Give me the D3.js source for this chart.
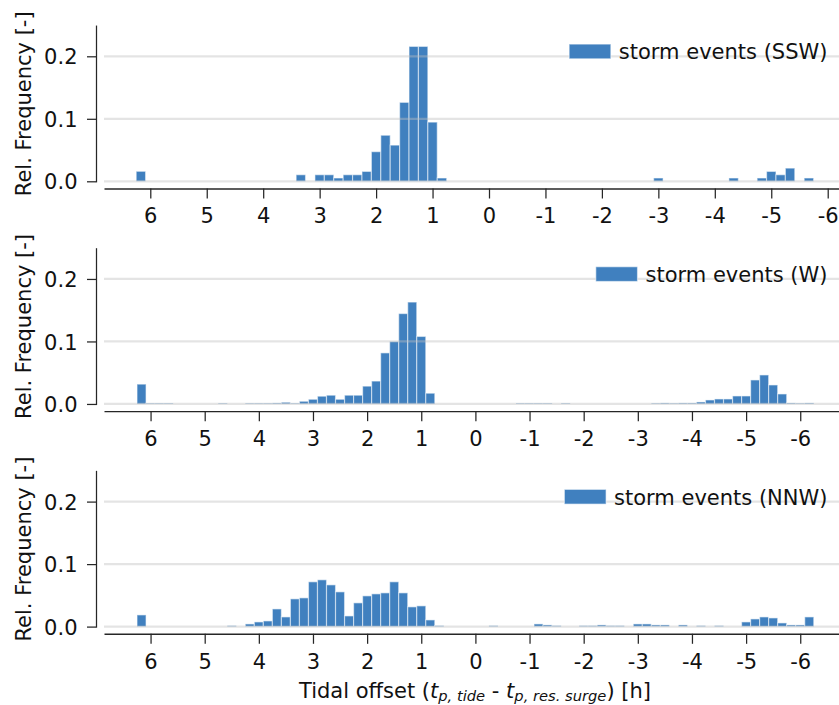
<!DOCTYPE html>
<html>
<head>
<meta charset="utf-8">
<script src="https://cdn.jsdelivr.net/npm/d3@7"></script>
<style>
  html, body { margin: 0; padding: 0; background: #fff; }
  svg { display: block; font-family: "DejaVu Sans", sans-serif; }
</style>
</head>
<body>
<svg id="chart" width="839" height="705"></svg>
<script>
// Histogram bins are 10 minutes wide; offsets are bin centres in minutes
// (tidal peak time minus residual-surge peak time).
const binMinutes = 10;

const sswOffsetMin = [370, 200, 180, 170, 160, 150, 140, 130, 120, 110, 100, 90, 80, 70, 60, 50,
  -180, -260, -290, -300, -310, -320, -340];
const sswFreq = [0.016, 0.0105, 0.0105, 0.0105, 0.0053, 0.0105, 0.0105, 0.0158, 0.0474, 0.0737, 0.0579, 0.1263, 0.2158, 0.2158, 0.0947, 0.0053,
  0.0053, 0.0053, 0.0053, 0.0158, 0.0105, 0.0211, 0.0053];

const wOffsetMin = [370, 360, 350, 340, 280, 250, 240, 230, 220, 210, 200, 190, 180, 170, 160, 150, 140, 130, 120, 110, 100, 90, 80, 70, 60, 50,
  -50, -60, -70, -80, -100, -200, -210, -220, -230, -240, -250, -260, -270, -280, -290, -300, -310, -320, -330, -340, -350, -360, -370];
const wFreq = [0.0317, 0.0011, 0.0011, 0.0011, 0.0011, 0.0011, 0.0011, 0.0011, 0.0016, 0.0027, 0.0011, 0.0043, 0.0075, 0.0124, 0.014, 0.0075, 0.014, 0.014, 0.0285, 0.0366, 0.0817, 0.1, 0.1446, 0.163, 0.108, 0.0172,
  0.0011, 0.0011, 0.0011, 0.0011, 0.0011, 0.0011, 0.0016, 0.0011, 0.0016, 0.0016, 0.0032, 0.0064, 0.008, 0.008, 0.0128, 0.0128, 0.0384, 0.0464, 0.0304, 0.016, 0.0016, 0.0011, 0.0016];

const nnwOffsetMin = [370, 270, 250, 240, 230, 220, 210, 200, 190, 180, 170, 160, 150, 140, 130, 120, 110, 100, 90, 80, 70, 60, 50, 40,
  -20, -70, -80, -90, -120, -130, -140, -150, -160, -180, -190, -200, -210, -230, -250, -270, -300, -310, -320, -330, -340, -350, -360, -370];
const nnwFreq = [0.0187, 0.0016, 0.0043, 0.0075, 0.0091, 0.0283, 0.0155, 0.0444, 0.046, 0.0717, 0.0749, 0.0668, 0.0556, 0.0171, 0.038, 0.0492, 0.0524, 0.054, 0.0717, 0.054, 0.0316, 0.0332, 0.0107, 0.0016,
  0.0016, 0.0043, 0.0027, 0.0016, 0.0016, 0.0016, 0.0027, 0.0016, 0.0016, 0.0043, 0.0043, 0.0027, 0.0027, 0.0027, 0.0016, 0.0016, 0.0075, 0.0123, 0.0155, 0.0139, 0.0059, 0.0027, 0.0027, 0.0155];

const directions = ["SSW", "W", "NNW"];
const xTickValues = [6, 5, 4, 3, 2, 1, 0, -1, -2, -3, -4, -5, -6];
const yTickValues = [0, 0.1, 0.2];
const yMax = 0.25;

const panels = [
  { dir: directions[0], offsets: sswOffsetMin, freq: sswFreq, xLim: 6.82, xRight: 874 },
  { dir: directions[1], offsets: wOffsetMin, freq: wFreq, xLim: 6.86, xRight: 846.8 },
  { dir: directions[2], offsets: nnwOffsetMin, freq: nnwFreq, xLim: 6.86, xRight: 846.8 }
];

const FS = 21;
const barColor = "#4080bf";
const ink = "#111";
const spine = "#262626";
const svg = d3.select("#chart");

panels.forEach((p, i) => {
  const zeroY = 181.3 + i * 222.65;
  const left = 104;
  const x = d3.scaleLinear().domain([p.xLim, -p.xLim]).range([left, p.xRight]);
  const y = d3.scaleLinear().domain([-0.001, yMax]).range([zeroY + 0.625, zeroY - 156.25]);

  const g = svg.append("g");

  // histogram bars
  const rows = d3.zip(p.offsets, p.freq);
  g.append("g").selectAll("rect").data(rows).join("rect")
    .attr("x", d => x((d[0] + binMinutes / 2) / 60))
    .attr("width", d => x((d[0] - binMinutes / 2) / 60) - x((d[0] + binMinutes / 2) / 60))
    .attr("y", d => y(d[1]))
    .attr("height", d => y(0) - y(d[1]))
    .attr("fill", barColor)
    .attr("stroke", "#fff")
    .attr("stroke-opacity", 0.5)
    .attr("stroke-width", 1.2);

  // horizontal grid drawn above the bars
  g.append("g").selectAll("line").data(yTickValues).join("line")
    .attr("x1", left).attr("x2", 839)
    .attr("y1", d => y(d)).attr("y2", d => y(d))
    .attr("stroke", "#bfbfbf")
    .attr("stroke-opacity", 0.42)
    .attr("stroke-width", 2.3);

  // left axis, offset from the plotting area
  const yAxis = g.append("g")
    .attr("transform", "translate(96,0)")
    .call(d3.axisLeft(y).tickValues(yTickValues).tickFormat(d3.format(".1f"))
      .tickSize(9).tickSizeOuter(0).tickPadding(9.5));
  yAxis.select(".domain").attr("stroke", spine).attr("stroke-width", 1.25);
  yAxis.selectAll(".tick line").attr("stroke", spine).attr("stroke-width", 1.25);
  yAxis.selectAll(".tick text")
    .attr("font-size", FS).attr("font-family", "DejaVu Sans").attr("fill", ink).attr("dy", "0.36em");

  // bottom axis, offset below zero
  const xAxis = g.append("g")
    .attr("transform", `translate(0,${zeroY + 7.2})`)
    .call(d3.axisBottom(x).tickValues(xTickValues).tickFormat(d => String(d))
      .tickSize(10).tickSizeOuter(0).tickPadding(9.8));
  xAxis.select(".domain").attr("stroke", spine).attr("stroke-width", 1.4);
  xAxis.selectAll(".tick line").attr("stroke", spine).attr("stroke-width", 1.25);
  xAxis.selectAll(".tick text")
    .attr("font-size", FS).attr("font-family", "DejaVu Sans").attr("fill", ink);

  // y label
  g.append("text")
    .attr("transform", `translate(30.5,${zeroY - 77.5}) rotate(-90)`)
    .attr("text-anchor", "middle")
    .attr("font-size", FS).attr("fill", ink)
    .text("Rel. Frequency [-]");

  // legend
  const legBase = zeroY - 122;
  const legText = g.append("text")
    .attr("x", 827.5).attr("y", legBase)
    .attr("text-anchor", "end")
    .attr("font-size", FS).attr("fill", ink)
    .text(`storm events (${p.dir})`);
  const bb = legText.node().getBBox();
  g.append("rect")
    .attr("x", bb.x - 8 - 41.7).attr("y", legBase - 15.2)
    .attr("width", 41.7).attr("height", 14.7)
    .attr("fill", barColor)
    .attr("stroke", "#fff").attr("stroke-opacity", 0.5).attr("stroke-width", 1.2);
});

// x label with math subscripts
const xl = svg.append("text")
  .attr("x", 475).attr("y", 698)
  .attr("text-anchor", "middle")
  .attr("font-size", FS).attr("fill", ink);
xl.append("tspan").text("Tidal offset (");
xl.append("tspan").attr("font-style", "italic").text("t");
xl.append("tspan").attr("font-style", "italic").attr("font-size", FS * 0.7).attr("dy", 3).text("p, tide");
xl.append("tspan").attr("dy", -3).text(" - ");
xl.append("tspan").attr("font-style", "italic").text("t");
xl.append("tspan").attr("font-style", "italic").attr("font-size", FS * 0.7).attr("dy", 3).text("p, res. surge");
xl.append("tspan").attr("dy", -3).text(") [h]");
</script>
</body>
</html>
